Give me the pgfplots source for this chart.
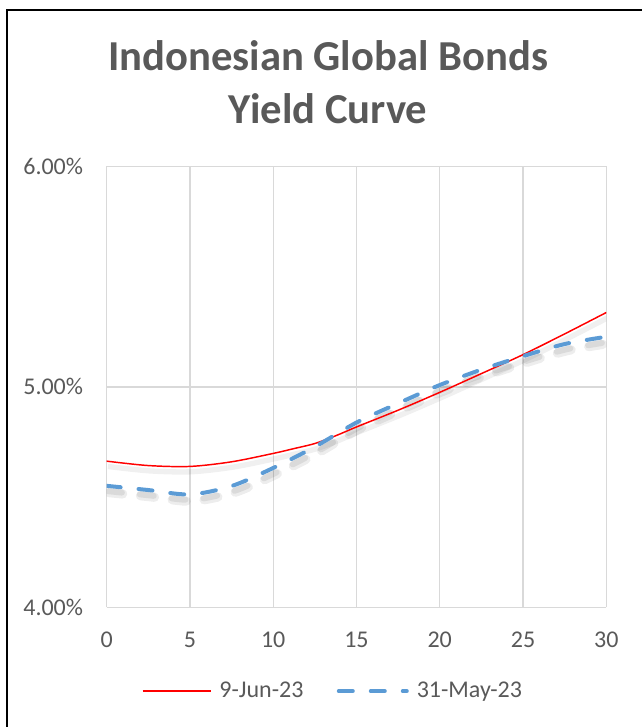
\documentclass[border=0pt]{standalone}
\usepackage{fontspec}
\setmainfont{Carlito}
\usepackage{pgfplots}
\pgfplotsset{compat=1.18}
\definecolor{txtgray}{HTML}{595959}
\definecolor{gridgray}{HTML}{D9D9D9}
\definecolor{jun}{HTML}{FF0000}
\definecolor{may}{HTML}{5B9BD5}

% yields in percent by tenor (years)
\pgfplotstableread{
x y
0     4.663
2.5   4.643
5     4.639
7.5   4.660
10    4.698
11.25 4.720
12.5  4.743
13.75 4.778
15    4.818
17.5  4.894
20    4.975
22.5  5.060
25    5.146
27.5  5.240
30    5.337
}\junnine
\pgfplotstableread{
x y
0    4.551
2.5  4.532
5    4.512
7.5  4.550
10   4.632
12.5 4.728
15   4.838
17.5 4.925
20   5.008
22.5 5.078
25   5.139
27.5 5.194
30   5.227
}\maythirtyone

\begin{document}
\begin{tikzpicture}
\path[use as bounding box] (0,0) rectangle (481.5pt,-545.25pt);
\draw[line width=1.5pt] (5.25pt,-545.25pt) -- (5.25pt,-7.5pt) -- (481.5pt,-7.5pt);
\node[anchor=base, font=\fontsize{32}{32}\selectfont\bfseries, text=txtgray] at (246pt,-53.25pt) {Indonesian Global Bonds};
\node[anchor=base, font=\fontsize{32}{32}\selectfont\bfseries, text=txtgray] at (246pt,-93pt) {Yield Curve};
\begin{axis}[
  at={(80pt,-455.5pt)}, anchor=south west,
  scale only axis, width=374.7pt, height=330.75pt,
  xmin=0, xmax=30, ymin=4, ymax=6,
  xtick={0,5,...,30}, ytick={4,5,6},
  yticklabels={4.00\%,5.00\%,6.00\%},
  /pgf/number format/assume math mode=true,
  grid=major, major grid style={draw=gridgray, line width=1pt},
  axis line style={draw=none}, tick style={draw=none},
  tick label style={font=\fontsize{18}{18}\selectfont, text=txtgray, inner sep=0pt},
  yticklabel style={anchor=base east, xshift=-17.5pt, yshift=-6pt},
  xticklabel style={anchor=base, yshift=-30pt},
  legend columns=2,
  legend style={at={(0.451,-0.19)}, anchor=center, draw=none, fill=none,
    font=\fontsize{18}{18}\selectfont, text=txtgray, inner sep=0pt,
    nodes={inner sep=0pt},
    /tikz/every odd column/.append style={column sep=6pt},
    /tikz/every even column/.append style={column sep=25pt}},
  legend image code/.code={\draw[#1] (0pt,0pt) -- (51pt,0pt);},
]
% soft shadows
\addplot[black, opacity=0.06, line width=4pt, smooth, yshift=-4pt, xshift=1pt, forget plot] table {\junnine};
\addplot[black, opacity=0.07, line width=7pt, smooth, line cap=round, dash pattern=on 10.5pt off 13.5pt, yshift=-5pt, xshift=1.5pt, forget plot] table {\maythirtyone};
\addplot[black, opacity=0.08, line width=4.5pt, smooth, line cap=round, dash pattern=on 10.5pt off 13.5pt, yshift=-4pt, xshift=1pt, forget plot] table {\maythirtyone};
% series
\addplot[jun, line width=1.1pt, smooth] table {\junnine};
\addlegendentry{9-Jun-23}
\addplot[may, line width=3pt, smooth, line cap=round, dash pattern=on 10.5pt off 13.5pt] table {\maythirtyone};
\addlegendentry{31-May-23}
\end{axis}
\end{tikzpicture}
\end{document}
